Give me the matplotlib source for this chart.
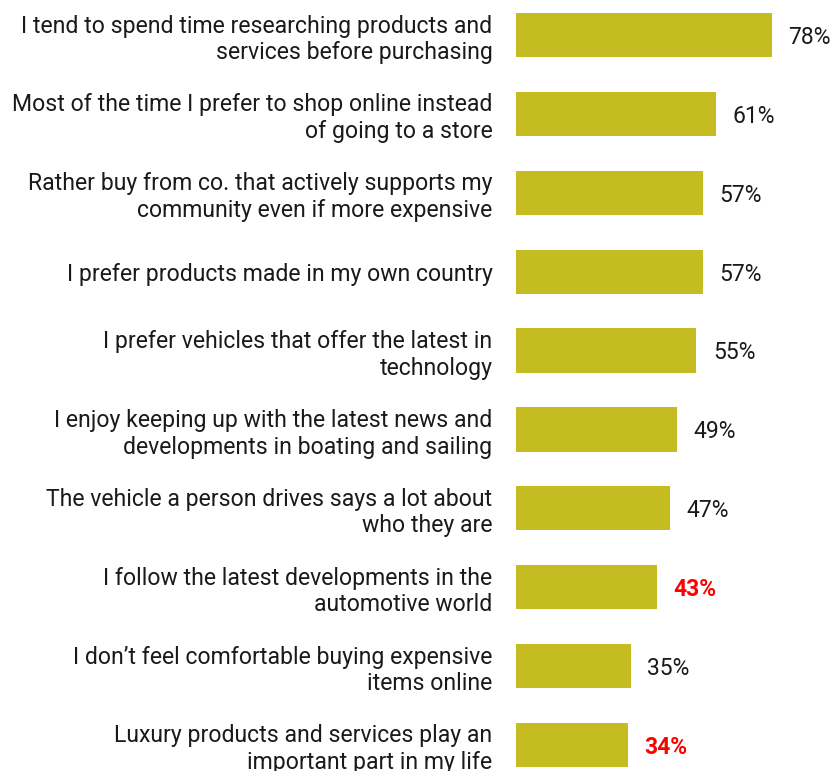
import matplotlib
matplotlib.use('Agg')
import matplotlib.pyplot as plt

# data kategori dan nilai (persen)
labels = [
    "I tend to spend time researching products and\nservices before purchasing",
    "Most of the time I prefer to shop online instead\nof going to a store",
    "Rather buy from co. that actively supports my\ncommunity even if more expensive",
    "I prefer products made in my own country",
    "I prefer vehicles that offer the latest in\ntechnology",
    "I enjoy keeping up with the latest news and\ndevelopments in boating and sailing",
    "The vehicle a person drives says a lot about\nwho they are",
    "I follow the latest developments in the\nautomotive world",
    "I don\u2019t feel comfortable buying expensive\nitems online",
    "Luxury products and services play an\nimportant part in my life",
]
values = [78, 61, 57, 57, 55, 49, 47, 43, 35, 34]
highlight = [False, False, False, False, False, False, False, True, False, True]

plt.rcParams['font.family'] = ['Roboto', 'DejaVu Sans']

fig = plt.figure(figsize=(8.38, 7.71), dpi=100)
ax = fig.add_axes([516 / 838, 0, 322 / 838, 1])

pos = list(range(len(values)))
ax.barh(pos, values, height=0.56, color='#c5bc22')

ax.set_xlim(0, 322 / 3.28)
ax.set_ylim(9.33, -0.444)
ax.set_yticks(pos)
ax.set_yticklabels(labels, fontsize=16.6, color='#1a1a1a', linespacing=1.2)
ax.tick_params(axis='y', length=0, pad=17)
ax.set_xticks([])
for s in ax.spines.values():
    s.set_visible(False)

# label nilai di ujung bar
for i, (v, hl) in enumerate(zip(values, highlight)):
    if hl:
        ax.text(v + 5, i + 0.03, f"{v}%", va='center', ha='left', fontsize=16.5,
                color='#ff0000', fontweight='bold')
    else:
        ax.text(v + 5, i + 0.03, f"{v}%", va='center', ha='left', fontsize=16.5,
                color='#1a1a1a')

fig.savefig('out.png', dpi=100)
